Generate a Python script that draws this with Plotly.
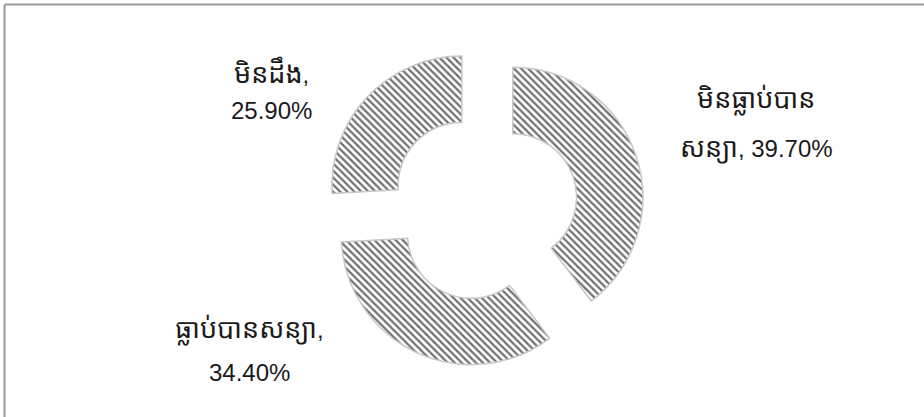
import re
import plotly.graph_objects as go

# slices, clockwise from 12 o'clock
categories = ["មិនធ្លាប់បានសន្យា", "ធ្លាប់បានសន្យា", "មិនដឹង"]
values = [39.7, 34.4, 25.9]

# where each label wraps (char index); None = wrap after the comma
line_breaks = [12, None, None]

FONT = "Liberation Sans, Noto Sans Khmer, Noto Serif Khmer, Khmer OS System, sans-serif"
W, H = 924, 417

# pie centre / outer radius in pixels, pull as fraction of radius
CX, CY, R, PULL = 484, 207, 130, 0.234
half = R * (1 + PULL)

fig = go.Figure(go.Pie(
    labels=categories,
    values=values,
    sort=False,
    direction="clockwise",
    rotation=0,
    hole=0.49,
    pull=[PULL] * 3,
    textinfo="none",
    showlegend=False,
    marker=dict(
        colors=["white"] * 3,
        line=dict(color="#c8c8c8", width=1.5),
        pattern=dict(shape="\\", fgcolor="#707070", bgcolor="white",
                     size=5, solidity=0.45, fillmode="replace"),
    ),
    domain=dict(x=[(CX - half) / W, (CX + half) / W],
                y=[(H - CY - half) / H, (H - CY + half) / H]),
))


def label_lines(cat, val, brk):
    full = f"{cat}, {val:.2f}%"
    if brk is None:
        i = full.index(", ") + 1
        return full[:i], full[i + 1:]
    return full[:brk], full[brk:]


def khmer_big(txt, size=27):
    # the Khmer face in the original runs wider than the Latin one
    return re.sub(r"([\u1780-\u17FF]+)",
                  rf'<span style="font-size:{size}px">\1</span>', txt)


# label: pixel centre of first line and spacing to the second line
label_pos = [(756, 100, 48), (249, 330, 42), (271, 72, 38)]
for (cx, cy, gap), cat, val, brk in zip(label_pos, categories, values, line_breaks):
    for k, txt in enumerate(label_lines(cat, val, brk)):
        fig.add_annotation(
            x=cx / W, y=1 - (cy + gap * k) / H, xref="paper", yref="paper",
            text=khmer_big(txt), showarrow=False, xanchor="center", yanchor="middle",
            font=dict(family=FONT, size=24, color="#1a1a1a"),
        )

# frame: only top and left edges visible
fig.add_shape(type="line", xref="paper", yref="paper",
              x0=4.5 / W, x1=1.02, y0=1 - 4.5 / H, y1=1 - 4.5 / H,
              line=dict(color="#9a9a9a", width=2))
fig.add_shape(type="line", xref="paper", yref="paper",
              x0=4.5 / W, x1=4.5 / W, y0=-0.02, y1=1 - 4.5 / H,
              line=dict(color="#9a9a9a", width=2))

fig.update_layout(
    width=W, height=H,
    margin=dict(l=0, r=0, t=0, b=0),
    paper_bgcolor="white",
    plot_bgcolor="white",
)

fig.write_html("out.html", config={"displayModeBar": False},
               post_script="document.body.style.margin='0';")
